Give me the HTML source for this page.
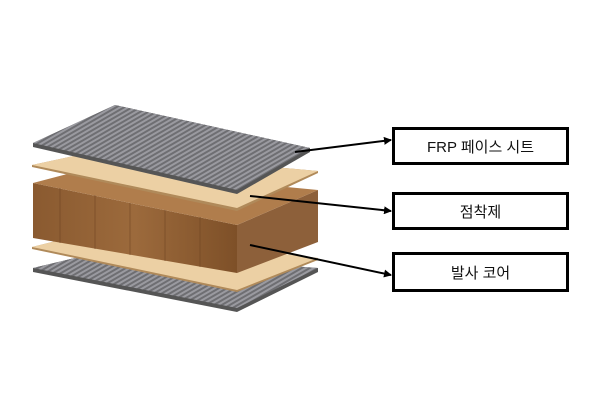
<!DOCTYPE html>
<html><head><meta charset="utf-8"><style>
body{margin:0;background:#fff}
.b{position:absolute;left:392px;width:171px;border:3px solid #000;background:#fff;font:15px "Liberation Sans","Noto Sans CJK KR",sans-serif;display:flex;align-items:center;justify-content:center;color:#111}
</style></head><body>
<div style="position:relative;width:600px;height:400px;overflow:hidden">
<svg width="600" height="400" style="position:absolute;left:0;top:0">
<defs>
<pattern id="g" width="4" height="4" patternUnits="userSpaceOnUse" patternTransform="rotate(60)">
<rect width="4" height="4" fill="#6e6e72"/><rect width="2" height="4" fill="#9a9aa0"/></pattern>
<linearGradient id="w" x1="0" x2="1"><stop offset="0" stop-color="#8a5a30"/><stop offset=".5" stop-color="#9c6a3c"/><stop offset="1" stop-color="#7e5028"/></linearGradient>
<marker id="a" markerWidth="8" markerHeight="8" refX="7" refY="4" orient="auto" markerUnits="userSpaceOnUse"><path d="M0,0L8,4L0,8z" fill="#000"/></marker>
</defs>
<!-- bottom grey -->
<polygon points="33,268 100,252 318,268 318,272 237,312 33,272" fill="#555"/>
<polygon points="33,268 100,252 318,268 237,308" fill="url(#g)"/>
<!-- bottom tan -->
<polygon points="32,247 92,232 318,258 318,260 237,292 32,249" fill="#b08a5a"/>
<polygon points="32,247 92,232 318,258 237,290" fill="#ecd0a4"/>
<!-- wood block -->
<polygon points="33,183 237,225 237,273 33,238" fill="url(#w)"/>
<polygon points="237,225 318,190 318,242 237,273" fill="#8d603a"/>
<polygon points="33,183 90,168 318,190 237,225" fill="#b07d4c"/>
<g stroke="#6a4020" stroke-width="1" opacity=".5">
<line x1="60" y1="188" x2="60" y2="243"/><line x1="95" y1="195" x2="95" y2="249"/><line x1="130" y1="203" x2="130" y2="255"/><line x1="165" y1="210" x2="165" y2="261"/><line x1="200" y1="217" x2="200" y2="267"/></g>
<!-- top tan -->
<polygon points="32,165 97,151 318,171 318,173 237,211 32,167" fill="#b08a5a"/>
<polygon points="32,165 97,151 318,171 237,208" fill="#ecd0a4"/>
<!-- top grey -->
<polygon points="33,143 115,105 310,148 310,152 237,194 33,147" fill="#555"/>
<polygon points="33,143 115,105 310,148 237,190" fill="url(#g)"/>
<g stroke="#000" stroke-width="2" marker-end="url(#a)">
<line x1="295" y1="152" x2="391" y2="140"/>
<line x1="250" y1="196" x2="391" y2="211"/>
<line x1="250" y1="245" x2="391" y2="275"/>
</g>
</svg>
<div class="b" style="top:127px;height:32px">FRP 페이스 시트</div>
<div class="b" style="top:192px;height:32px">점착제</div>
<div class="b" style="top:252px;height:34px">발사 코어</div>
</div>
</body></html>
